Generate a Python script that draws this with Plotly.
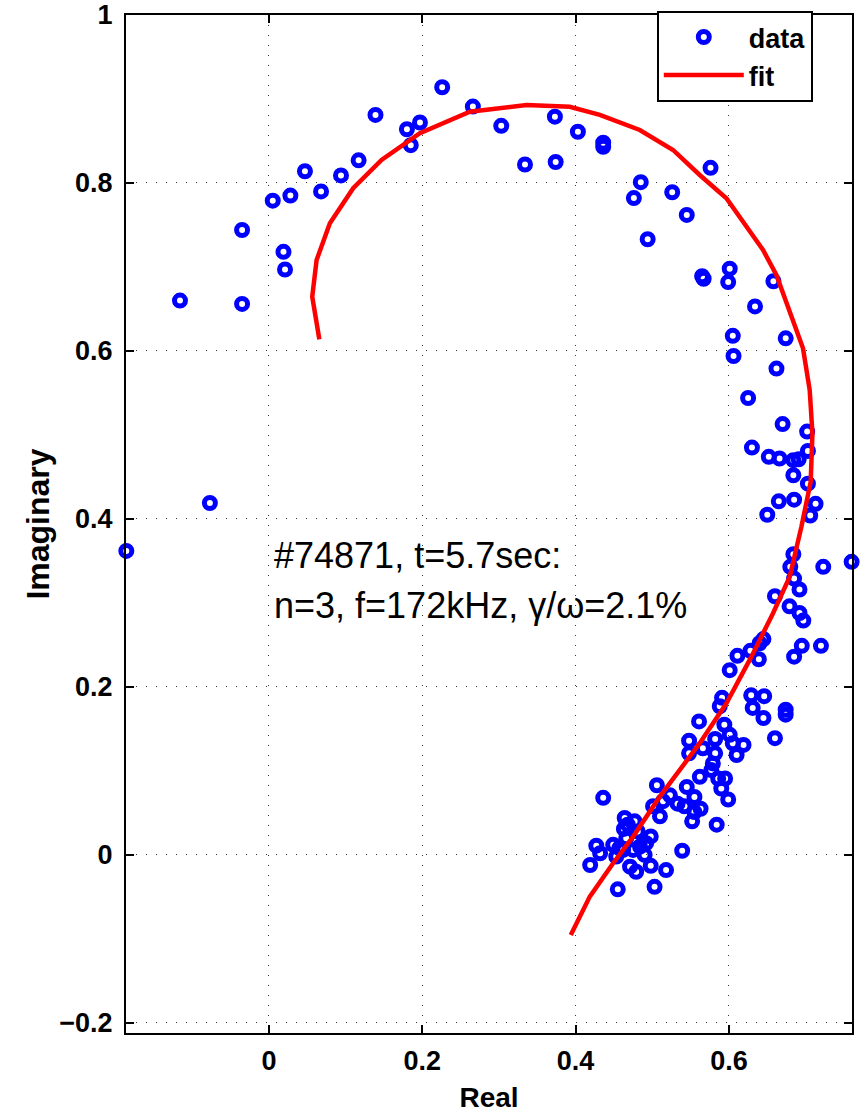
import plotly.graph_objects as go

# Measured complex response (real / imaginary parts)
data_real = [
    -0.186, -0.116, -0.077, -0.035, -0.035, 0.005, 0.019, 0.021, 0.028, 0.047,
    0.068, 0.094, 0.117, 0.139, 0.180, 0.185, 0.197, 0.226, 0.266, 0.303,
    0.334, 0.373, 0.374, 0.403, 0.436, 0.436, 0.485, 0.476, 0.494, 0.526,
    0.545, 0.576, 0.565, 0.567, 0.601, 0.599, 0.658, 0.634, 0.605, 0.674,
    0.606, 0.662, 0.625, 0.670, 0.702, 0.630, 0.703, 0.652, 0.666, 0.684,
    0.691, 0.684, 0.703, 0.665, 0.685, 0.650, 0.713, 0.706, 0.684, 0.680,
    0.723, 0.760, 0.685, 0.692, 0.660, 0.679, 0.692, 0.697, 0.695, 0.685,
    0.720, 0.645, 0.640, 0.628, 0.639, 0.611, 0.601, 0.629, 0.646, 0.631,
    0.645, 0.674, 0.674, 0.660, 0.591, 0.588, 0.561, 0.594, 0.601, 0.582,
    0.548, 0.548, 0.566, 0.605, 0.619, 0.610, 0.582, 0.579, 0.577, 0.562,
    0.586, 0.595, 0.590, 0.599, 0.506, 0.545, 0.523, 0.555, 0.514, 0.533,
    0.542, 0.555, 0.501, 0.510, 0.552, 0.563, 0.584, 0.436, 0.464, 0.477,
    0.463, 0.466, 0.498, 0.492, 0.484, 0.475, 0.449, 0.427, 0.432, 0.419,
    0.453, 0.462, 0.471, 0.479, 0.498, 0.518, 0.539, 0.455, 0.503, 0.468,
    0.481, 0.457, 0.490,
]
data_imag = [
    0.362, 0.660, 0.419, 0.656, 0.744, 0.779, 0.718, 0.697, 0.785, 0.814,
    0.790, 0.809, 0.827, 0.881, 0.864, 0.845, 0.872, 0.914, 0.891, 0.868,
    0.822, 0.879, 0.825, 0.861, 0.848, 0.843, 0.801, 0.782, 0.733, 0.789,
    0.762, 0.818, 0.689, 0.686, 0.698, 0.682, 0.683, 0.653, 0.618, 0.615,
    0.594, 0.579, 0.544, 0.513, 0.504, 0.485, 0.481, 0.474, 0.472, 0.470,
    0.471, 0.452, 0.442, 0.421, 0.423, 0.405, 0.418, 0.404, 0.358, 0.343,
    0.343, 0.349, 0.329, 0.316, 0.308, 0.296, 0.288, 0.279, 0.249, 0.236,
    0.249, 0.257, 0.252, 0.243, 0.233, 0.237, 0.220, 0.190, 0.189, 0.175,
    0.163, 0.173, 0.167, 0.139, 0.187, 0.177, 0.159, 0.155, 0.143, 0.138,
    0.136, 0.121, 0.127, 0.133, 0.131, 0.119, 0.121, 0.109, 0.101, 0.093,
    0.091, 0.091, 0.079, 0.066, 0.083, 0.081, 0.071, 0.069, 0.064, 0.061,
    0.058, 0.051, 0.058, 0.046, 0.040, 0.055, 0.036, 0.068, 0.044, 0.040,
    0.031, 0.020, 0.022, 0.014, 0.010, 0.006, 0.012, 0.011, 0.002, -0.012,
    -0.002, 0.006, -0.014, -0.020, -0.013, -0.018, 0.005, -0.041, -0.038, 0.036,
    0.028, 0.008, 0.000,
]

# Fitted mode response
fit_real = [
    0.0658, 0.0565, 0.0622, 0.0795, 0.1099, 0.1469, 0.1969, 0.2621, 0.3360, 0.3924,
    0.4316, 0.4837, 0.5271, 0.5619, 0.5967, 0.6445, 0.6619, 0.6793, 0.6966, 0.7053,
    0.7089, 0.7066, 0.6945, 0.6793, 0.6575, 0.6293, 0.5967, 0.5619, 0.5098, 0.4750,
    0.4489, 0.4185, 0.3937,
]
fit_imag = [
    0.6137, 0.6646, 0.7083, 0.7520, 0.7937, 0.8274, 0.8592, 0.8849, 0.8929, 0.8908,
    0.8810, 0.8631, 0.8393, 0.8095, 0.7818, 0.7202, 0.6905, 0.6449, 0.6032, 0.5536,
    0.5020, 0.4440, 0.3908, 0.3313, 0.2877, 0.2361, 0.1806, 0.1330, 0.0694, 0.0218,
    -0.0099, -0.0496, -0.0952,
]

x_ticks = [0, 0.2, 0.4, 0.6]
y_ticks = [-0.2, 0, 0.2, 0.4, 0.6, 0.8, 1]
x_range = [-0.1864, 0.7605]
y_range = [-0.212, 1.0]

shot_line = "#74871, t=5.7sec:"
param_line = "n=3, f=172kHz, γ/ω=2.1%"

FONT = "Liberation Sans, Arial, Helvetica, sans-serif"

fig = go.Figure()
fig.add_trace(go.Scatter(
    x=data_real, y=data_imag, mode="markers", name="data",
    marker=dict(symbol="circle-open", size=11, color="#0000ff",
                line=dict(width=5, color="#0000ff")),
    cliponaxis=False,
))
fig.add_trace(go.Scatter(
    x=fit_real, y=fit_imag, mode="lines", name="fit",
    line=dict(color="#ff0000", width=4.5),
    cliponaxis=False,
))

axis_common = dict(
    showline=True, linecolor="black", linewidth=2, mirror="allticks",
    ticks="inside", ticklen=8, tickwidth=1.5, tickcolor="black",
    showgrid=True, gridcolor="#333333", gridwidth=1, griddash="1px,9px",
    zeroline=False, automargin=False,
    tickfont=dict(family=FONT, size=27, color="black", weight="bold"),
)

fig.update_xaxes(
    range=x_range, tickvals=x_ticks, ticktext=[f"{v:g}" for v in x_ticks],
    title=dict(text="Real", font=dict(family=FONT, size=28, color="black", weight="bold"),
               standoff=18),
    ticklabelstandoff=3,
    **axis_common,
)
fig.update_yaxes(
    range=y_range, tickvals=y_ticks,
    ticktext=[("\u2212" + f"{abs(v):g}") if v < 0 else f"{v:g}" for v in y_ticks],
    title=dict(text="Imaginary", font=dict(family=FONT, size=32, color="black", weight="bold"),
               standoff=0),
    ticklabelstandoff=6,
    **axis_common,
)

fig.add_annotation(x=0.004, y=0.356, xref="x", yref="y", text=shot_line,
                   showarrow=False, xanchor="left", yanchor="middle",
                   font=dict(family=FONT, size=36, color="black"))
fig.add_annotation(x=0.004, y=0.297, xref="x", yref="y", text=param_line,
                   showarrow=False, xanchor="left", yanchor="middle",
                   font=dict(family=FONT, size=36, color="black"))

fig.update_layout(
    width=862, height=1113,
    margin=dict(l=126, r=10, t=15, b=80),
    plot_bgcolor="white", paper_bgcolor="white",
    showlegend=True,
    legend=dict(
        x=0.946, xanchor="right", y=1.004, yanchor="top",
        bgcolor="white", bordercolor="black", borderwidth=2,
        font=dict(family=FONT, size=27, color="black", weight="bold"),
        itemwidth=80, tracegroupgap=0,
    ),
)

fig.write_html("out.html")
